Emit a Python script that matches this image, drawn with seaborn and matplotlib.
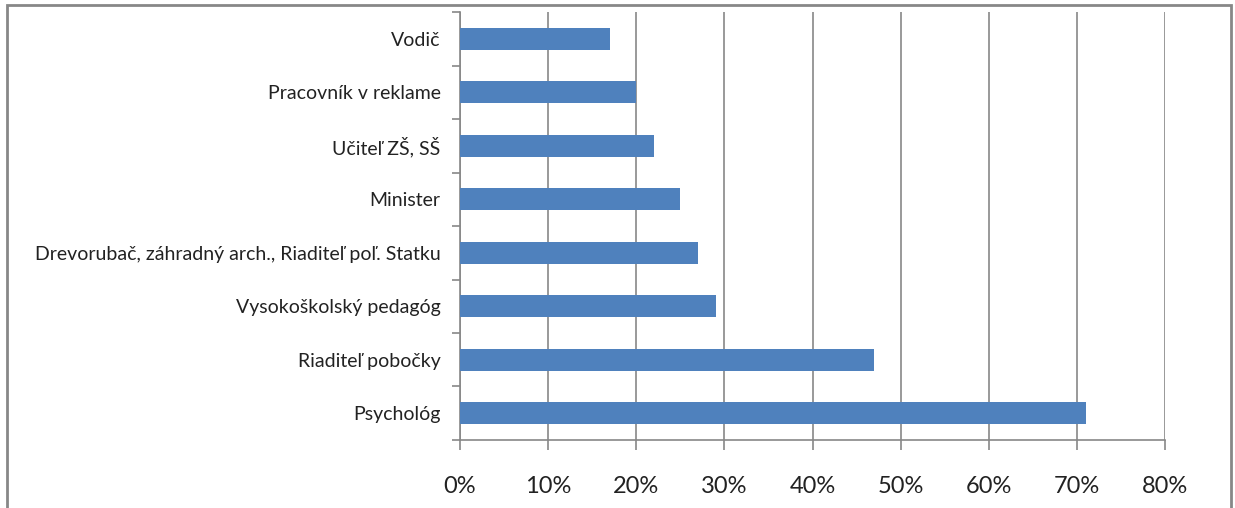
import matplotlib
matplotlib.use("Agg")
import matplotlib.pyplot as plt
import matplotlib.ticker as tic
from matplotlib.patches import Rectangle
import seaborn as sns
import pandas as pd

# values (share of respondents)
professions = ["Vodič", "Pracovník v reklame", "Učiteľ ZŠ, SŠ", "Minister",
               "Drevorubač, záhradný arch., Riaditeľ poľ. Statku",
               "Vysokoškolský pedagóg", "Riaditeľ pobočky", "Psychológ"]
shares = [0.17, 0.20, 0.22, 0.25, 0.27, 0.29, 0.47, 0.71]
x_ticks = [0.0, 0.1, 0.2, 0.3, 0.4, 0.5, 0.6, 0.7, 0.8]

df = pd.DataFrame({"profession": professions, "share": shares})

sns.set_theme(style="white")
plt.rcParams["font.family"] = ["Lato", "DejaVu Sans"]

grey = "#878787"
fig = plt.figure(figsize=(12.35, 5.08), dpi=100)
ax = fig.add_axes([0.3725, 0.134, 0.571, 0.842])

sns.barplot(data=df, x="share", y="profession", order=professions,
            color="#4F81BD", saturation=1, width=0.41, linewidth=0,
            ax=ax, zorder=3)

ax.set_xlim(0, 0.8)
ax.set_ylim(len(professions) - 0.5, -0.5)
ax.set_xticks(x_ticks)
ax.xaxis.set_major_formatter(tic.PercentFormatter(1.0, decimals=0))
ax.xaxis.grid(True, color=grey, linewidth=1.2, zorder=0)
ax.yaxis.grid(False)
ax.set_xlabel("")
ax.set_ylabel("")

for side in ["top", "right"]:
    ax.spines[side].set_visible(False)
for side in ["left", "bottom"]:
    ax.spines[side].set_color(grey)
    ax.spines[side].set_linewidth(1.2)

ax.tick_params(axis="x", which="major", direction="out", length=7, width=1.2,
               color=grey, labelsize=17, pad=19, bottom=True, labelcolor="#222222")
ax.tick_params(axis="y", which="major", length=0, labelsize=14, pad=14,
               labelcolor="#222222")
ax.set_yticks([i - 0.5 for i in range(len(professions) + 1)], minor=True)
ax.tick_params(axis="y", which="minor", direction="out", length=6, width=1.2,
               color=grey, left=True)

# outer chart frame
fig.patches.append(Rectangle((7 / 1235, -0.1), 1224 / 1235, 1.09, transform=fig.transFigure,
                             fill=False, edgecolor=grey, linewidth=2))

fig.savefig("out.png", dpi=100)
